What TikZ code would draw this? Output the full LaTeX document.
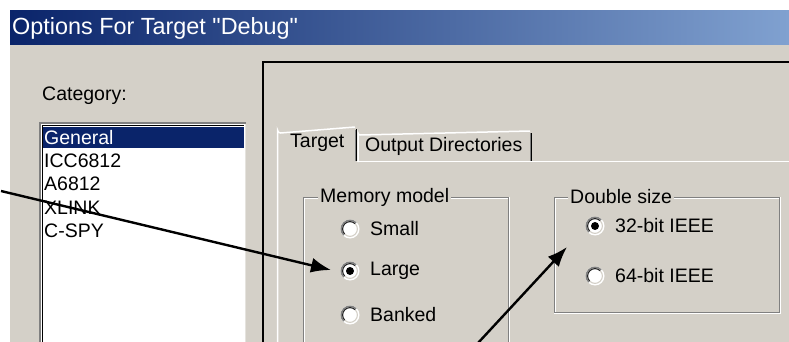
\documentclass[tikz,border=0pt]{standalone}
\usepackage{fontspec}
\setmainfont{Liberation Sans}
\usetikzlibrary{arrows.meta}
\definecolor{winface}{RGB}{212,208,200}
\definecolor{winshadow}{RGB}{128,128,128}
\definecolor{winnavy}{RGB}{10,36,106}
\definecolor{winlight}{RGB}{128,161,208}
\definecolor{wintext}{RGB}{0,0,0}
\begin{document}
\begin{tikzpicture}[x=1pt,y=-1pt,
  ui/.style={inner sep=0pt,anchor=west,text=wintext,font=\fontsize{19.5}{22}\selectfont},
  grouptitle/.style={ui,fill=winface,inner xsep=2pt},
  pointer/.style={line width=2.4pt,-{Latex[length=20pt,width=15pt]}}]
% page and window background
\useasboundingbox (0,0) rectangle (789,342);
\fill[white] (0,0) rectangle (789,342);
\fill[winface] (10,45) rectangle (789,342);
% title bar
\shade[left color=winnavy,right color=winlight] (10,11) rectangle (789,45);
\node[ui,anchor=west,text=white,font=\fontsize{23.4}{26}\selectfont] (title) at (12,28) {Options For Target \textquotedbl Debug\textquotedbl};
% category list
\node[ui] (cat) at (42,96) {Category:};
\fill[white] (39,122) rectangle (246,342);
\draw[winshadow,line width=2pt] (40,342) -- (40,123) -- (246,123);
\draw[black,line width=1pt] (42.5,342) -- (42.5,125.5) -- (244,125.5);
\draw[winface!60!white,line width=1pt] (245.5,124) -- (245.5,342);
\fill[winnavy] (43,127) rectangle (244,148);
\node[ui,text=white] (general) at (44,137.5) {General};
\node[ui] (icc) at (44,160.5) {ICC6812};
\node[ui] (asm) at (44,184) {A6812};
\node[ui] (xlink) at (44,207.5) {XLINK};
\node[ui] (cspy) at (44,231) {C-SPY};
% page frame
\draw[black,line width=2pt] (263,342) -- (263,62) -- (789,62);
% tab strip
\draw[white,line width=1.5pt] (277.5,342) -- (277.5,130) arc[start angle=180,end angle=90,radius=3] -- (355,127);
\draw[black,line width=1.5pt] (356.5,129) -- (356.5,161);
\draw[winshadow,line width=1pt] (355,130) -- (355,161);
\draw[white,line width=1.5pt] (358,162) -- (358,133) arc[start angle=180,end angle=90,radius=2] -- (530,131);
\draw[black,line width=1.5pt] (531.5,133) -- (531.5,161);
\draw[winshadow,line width=1pt] (530,133) -- (530,161);
\draw[white,line width=1.5pt] (357,161.5) -- (789,161.5);
\node[ui] (tabtarget) at (290,143) {Target};
\node[ui] (tabout) at (365,146) {Output Directories};
% memory model group
\draw[winshadow,line width=1pt] (303.5,342) -- (303.5,197.5) -- (508.5,197.5) -- (508.5,342);
\draw[white,line width=1pt] (304.5,342) -- (304.5,198.5) -- (507.5,198.5);
\draw[white,line width=1pt] (509.5,197) -- (509.5,342);
\node[grouptitle] (memtitle) at (318,197) {Memory model};
% double size group
\draw[winshadow,line width=1pt] (554.5,197.5) rectangle (779.5,312.5);
\draw[white,line width=1pt] (555.5,311.5) -- (555.5,198.5) -- (778.5,198.5);
\draw[white,line width=1pt] (554,313.5) -- (780.5,313.5) -- (780.5,197);
\node[grouptitle] (dbltitle) at (568,197) {Double size};
% radio buttons: sunken white circle, dark rim on the upper left
\tikzset{radio/.pic={
  \fill[white] (0,0) circle[radius=9.5];
  \draw[winshadow,line width=1.3pt] (135:8.8) arc[start angle=135,end angle=315,radius=8.8];
  \draw[black!85,line width=1.1pt] (135:7.4) arc[start angle=135,end angle=315,radius=7.4];
  \draw[winface,line width=1.1pt] (315:7.4) arc[start angle=315,end angle=495,radius=7.4];
}}
\pic at (350,229) {radio};
\pic at (350,271) {radio};
\pic at (350,315) {radio};
\pic at (595,226) {radio};
\pic at (595,276) {radio};
\fill[black] (350,271) circle[radius=4];
\fill[black] (595,226) circle[radius=4];
\node[ui] (small) at (370,229) {Small};
\node[ui] (large) at (370,271) {Large};
\node[ui] (banked) at (370,315) {Banked};
\node[ui] (bit32) at (615,226) {32-bit IEEE};
\node[ui] (bit64) at (615,276) {64-bit IEEE};
% pointer arrows
\coordinate (p1start) at (1,191);
\coordinate (p1end) at (331,270);
\coordinate (p2start) at (478,343);
\coordinate (p2end) at (567,247);
\draw[pointer] (p1start) -- (p1end);
\draw[pointer] (p2start) -- (p2end);
\end{tikzpicture}
\end{document}
